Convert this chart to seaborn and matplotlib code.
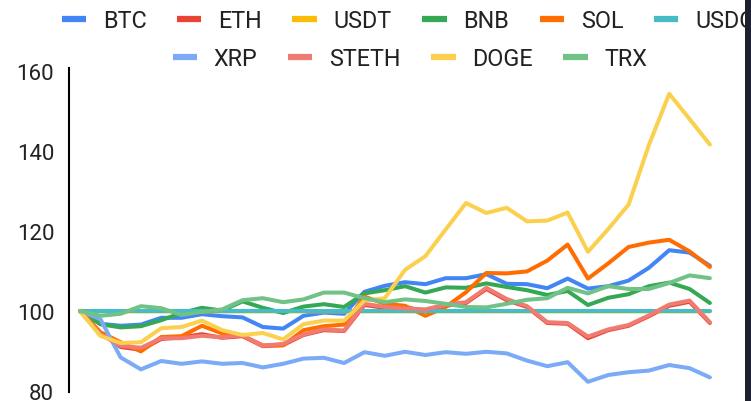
import pandas as pd
import matplotlib.pyplot as plt
import seaborn as sns
from matplotlib.lines import Line2D
from matplotlib.patches import Rectangle

# Normalised price index (start = 100), one value per day
coins = ["BTC", "ETH", "USDT", "BNB", "SOL", "USDC", "XRP", "STETH", "DOGE", "TRX"]
colors = ["#4285F4", "#EA4335", "#FBBC04", "#34A853", "#FF6D01",
          "#46BDC6", "#7BAAF7", "#F07B72", "#FCD04F", "#71C287"]

btc = [100, 96.8, 96.3, 96.6, 98.3, 98.3, 99.2, 98.7, 98.4, 96.0, 95.6, 98.8, 99.6, 99.3, 104.8, 106.3,
       107.2, 106.7, 108.2, 108.2, 109.2, 106.8, 106.7, 105.7, 108.1, 105.6, 106.2, 107.6, 110.8, 115.2, 114.6, 111.3]
eth = [100, 94.6, 91.0, 90.3, 93.0, 93.4, 94.2, 93.3, 93.7, 91.2, 91.5, 94.0, 95.2, 95.0, 101.5, 100.8,
       100.9, 100.1, 101.3, 102.0, 105.5, 102.7, 101.0, 97.0, 96.8, 93.2, 95.2, 96.3, 98.7, 101.3, 102.3, 97.0]
usdt = [100, 99.9, 99.9, 99.9, 99.9, 99.9, 99.9, 99.9, 99.9, 99.9, 99.9, 99.9, 99.9, 99.9, 99.9, 99.9,
        99.9, 99.9, 99.9, 99.9, 99.9, 99.9, 99.9, 99.9, 99.9, 99.9, 99.9, 99.9, 99.9, 99.9, 99.9, 99.9]
bnb = [100, 96.7, 95.9, 96.2, 97.7, 99.5, 100.8, 100.1, 102.4, 100.8, 99.5, 101.1, 101.7, 101.0, 104.4, 105.2,
       106.2, 104.6, 105.9, 105.8, 106.9, 106.0, 105.2, 104.0, 105.0, 101.5, 103.3, 104.2, 106.2, 107.1, 105.5, 102.0]
sol = [100, 94.7, 92.2, 89.9, 93.5, 93.7, 96.3, 94.4, 93.8, 91.4, 91.4, 95.2, 96.2, 96.6, 103.6, 101.8,
       101.3, 98.8, 101.0, 104.7, 109.5, 109.4, 109.9, 112.6, 116.6, 108.1, 111.9, 116.0, 117.1, 117.8, 114.9, 111.0]
usdc = [100, 100, 100, 100, 100, 100, 100, 100, 100, 100, 100, 100, 100, 100, 100, 100,
        100, 100, 100, 100, 100, 100, 100, 100, 100, 100, 100, 100, 100, 100, 100, 100]
xrp = [100, 98.0, 88.4, 85.4, 87.5, 86.8, 87.4, 86.8, 87.0, 85.9, 86.8, 88.1, 88.3, 87.0, 89.7, 88.8,
       89.8, 89.0, 89.7, 89.3, 89.8, 89.4, 87.6, 86.2, 87.2, 82.3, 84.0, 84.7, 85.1, 86.5, 85.7, 83.4]
steth = [100, 94.2, 91.3, 90.8, 93.2, 93.2, 93.8, 93.4, 93.9, 91.3, 91.8, 94.1, 95.4, 95.1, 101.8, 101.0,
         100.6, 100.4, 101.6, 102.2, 105.8, 103.0, 101.2, 97.2, 97.0, 93.6, 95.4, 96.5, 98.9, 101.6, 102.6, 97.2]
doge = [100, 93.8, 92.0, 92.2, 95.7, 96.0, 97.6, 95.2, 94.0, 94.5, 92.9, 96.7, 97.6, 97.6, 102.6, 103.2,
        110.3, 113.7, 120.4, 127.0, 124.5, 125.8, 122.4, 122.6, 124.6, 114.8, 120.5, 126.6, 141.5, 154.3, 148.0, 141.6]
trx = [100, 98.8, 99.3, 101.2, 100.7, 99.0, 99.8, 100.4, 102.7, 103.2, 102.2, 102.9, 104.6, 104.6, 103.2, 102.2,
       102.9, 102.5, 101.8, 101.0, 100.9, 101.8, 102.8, 103.2, 105.8, 104.4, 106.2, 105.5, 105.5, 107.0, 108.9, 108.2]

yticks = [80, 100, 120, 140, 160]

series = [btc, eth, usdt, bnb, sol, usdc, xrp, steth, doge, trx]
rows = []
for coin, vals in zip(coins, series):
    for day, v in enumerate(vals):
        rows.append({"day": day, "value": v, "coin": coin})
df = pd.DataFrame(rows)

sns.set_theme(style="white")
plt.rcParams["font.family"] = ["Roboto", "DejaVu Sans"]

fig = plt.figure(figsize=(7.51, 4.02), dpi=100)
ax = fig.add_axes([0.0925, 0.0224, 0.8595, 0.806])

sns.lineplot(data=df, x="day", y="value", hue="coin", hue_order=coins,
             palette=colors, linewidth=2.9, legend=False, ax=ax)

ax.set_xlim(-0.517, 31.25)
ax.set_ylim(79.75, 160.75)
ax.set_yticks(yticks)
ax.set_yticklabels([str(t) for t in yticks], fontsize=16, color="#222222")
ax.set_xticks([])
ax.set_xlabel("")
ax.set_ylabel("")
ax.tick_params(axis="y", length=0, pad=11)
for side in ["top", "right", "bottom"]:
    ax.spines[side].set_visible(False)
ax.spines["left"].set_color("black")
ax.spines["left"].set_linewidth(1.5)

handles = [Line2D([0], [0], color=c, lw=4.5, solid_capstyle="butt") for c in colors]
leg_kw = dict(frameon=False, fontsize=16.8, handlelength=1.05, handletextpad=0.72,
              columnspacing=1.3, borderpad=0, labelcolor="#222222")
leg1 = fig.legend(handles[:6], coins[:6], ncol=6, loc="center",
                  bbox_to_anchor=(408 / 751, 1 - 22 / 402), **leg_kw)
leg2 = fig.legend(handles[6:], coins[6:], ncol=4, loc="center",
                  bbox_to_anchor=(410 / 751, 1 - 60 / 402), **leg_kw)

# dark strip along the right edge of the screenshot
fig.patches.append(Rectangle((745 / 751, 0), 6 / 751, 1, transform=fig.transFigure,
                             facecolor="#1c2030", edgecolor="none", zorder=10))

fig.savefig("out.png", dpi=100)
